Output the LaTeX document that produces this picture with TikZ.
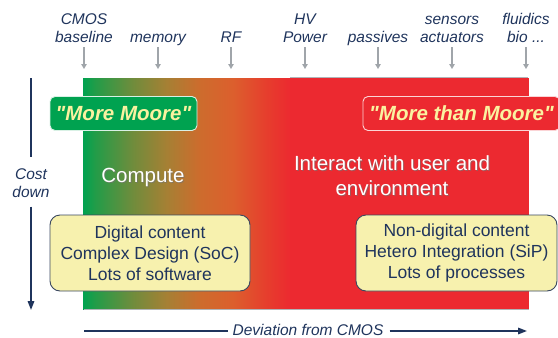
\documentclass[tikz,border=0pt]{standalone}
\usepackage{fontspec}
\setmainfont{Liberation Sans}
% same family without the TeX quote mapping, so " stays a straight quote
\newfontfamily\tagfamily{Liberation Sans}
\usetikzlibrary{arrows.meta}

\definecolor{navy}{RGB}{31,52,92}
\definecolor{pointer}{RGB}{160,165,170}
\definecolor{edge}{RGB}{176,180,184}
\definecolor{mmGreen}{RGB}{0,162,80}
\definecolor{mmGreenB}{RGB}{35,156,72}
\definecolor{mmOlive}{RGB}{112,140,60}
\definecolor{mmBrown}{RGB}{165,128,52}
\definecolor{mmOrange}{RGB}{205,108,45}
\definecolor{mmOrangeB}{RGB}{220,95,45}
\definecolor{mmRedOr}{RGB}{230,62,45}
\definecolor{mmRed}{RGB}{236,41,48}
\definecolor{paleYellow}{RGB}{250,242,160}
\definecolor{noteFill}{RGB}{247,241,174}
\definecolor{noteEdge}{RGB}{58,72,96}

% green-to-red band; the path spans 25bp..75bp of the shading
\pgfdeclarehorizontalshading{mooreband}{100bp}{%
  color(0bp)=(mmGreen); color(25bp)=(mmGreen); color(28bp)=(mmGreenB);
  color(37bp)=(mmOlive); color(45bp)=(mmBrown); color(53bp)=(mmOrange);
  color(61bp)=(mmOrangeB); color(69bp)=(mmRedOr); color(75bp)=(mmRed);
  color(100bp)=(mmRed)}

\begin{document}
\begin{tikzpicture}[x=1pt,y=-1pt,
  lbl/.style={font=\fontsize{15.5}{18}\selectfont\itshape, text=navy,
    align=center, inner sep=0pt, text depth=0pt},
  pointerarrow/.style={draw=pointer, line width=1.6pt,
    -{Triangle[width=5.5pt,length=5pt]}},
  axisarrow/.style={draw=navy, line width=1.6pt,
    -{Triangle[width=6.5pt,length=9pt]}},
  axisline/.style={draw=navy, line width=1.6pt},
  tag/.style={font=\tagfamily\fontsize{20.5}{24}\selectfont\bfseries\itshape,
    text=paleYellow, rounded corners=5pt, line width=0.9pt,
    minimum height=34pt, inner sep=0pt},
  bigtext/.style={font=\fontsize{20.5}{25}\selectfont, align=center,
    inner sep=0pt},
  note/.style={font=\fontsize{17.5}{21}\selectfont, text=navy,
    align=center, fill=noteFill, draw=noteEdge, line width=0.9pt,
    rounded corners=10pt, minimum height=76pt, inner sep=0pt},
]
\useasboundingbox (0,0) rectangle (558,338);
\clip (0,0) rectangle (558,338);

% background band
\shade[shading=mooreband] (83,78) rectangle (291,309);
\fill[mmRed] (290,78) rectangle (529,309);
\draw[edge, line width=0.9pt] (290,77.6) -- (528,77.6);
\draw[edge, line width=0.9pt] (84,309.6) -- (529,309.6);

% technology labels along the top
\node[lbl, anchor=south] (cmos) at (84,43) {CMOS\\baseline};
\node[lbl, anchor=south] (mem) at (158,43) {memory};
\node[lbl, anchor=south] (rf) at (231,43) {RF};
\node[lbl, anchor=south] (hv) at (305,43) {HV\\Power};
\node[lbl, anchor=south] (pas) at (378,43) {passives};
\node[lbl, anchor=south] (sens) at (452,43) {sensors\\actuators};
\node[lbl, anchor=south] (flu) at (526,43) {fluidics\\bio ...};

\foreach \n/\x in {cmos/84, mem/158, rf/231, hv/305, pas/378, sens/452, flu/526}{
  \coordinate (\n-end) at (\x,69);
  \draw[pointerarrow] ([yshift=-4pt]\n.south) -- (\n-end);
}

% cost axis
\coordinate (costtop) at (31,78);
\coordinate (costbot) at (31,310);
\node[lbl, inner sep=0pt] (cost) at (31,183) {Cost\\down};
\draw[axisline] (costtop) -- ([yshift=11pt]cost.north);
\draw[axisarrow] ([yshift=-9pt]cost.south) -- (costbot);

% deviation axis
\coordinate (devleft) at (84,331);
\coordinate (devright) at (527,331);
\node[lbl, anchor=base] (dev) at (308,335.5) {Deviation from CMOS};
\draw[axisline] (devleft) -- ([xshift=-4pt]dev.west |- devleft);
\draw[axisarrow] ([xshift=6pt]dev.east |- devright) -- (devright);

% tags
\node[tag, fill=mmGreen, draw=white!85!mmGreen, minimum width=147pt]
  (mm) at (123.5,113.5) {"More Moore"};
\node[tag, fill=mmRed, draw=white!80!mmRed, minimum width=197pt]
  (mtm) at (461.5,113.5) {"More than Moore"};

% headline texts with a soft shadow
\node[bigtext, text=black!55, opacity=0.6] (computeshadow) at (144,178) {Compute};
\node[bigtext, text=white] (compute) at (143,177) {Compute};
\node[bigtext, text=black!55, opacity=0.6] (interactshadow) at (393,176.5)
  {Interact with user and\\environment};
\node[bigtext, text=white] (interact) at (392,175.5)
  {Interact with user and\\environment};

% notes
\node[note, minimum width=200pt] (digital) at (150,253)
  {Digital content\\Complex Design (SoC)\\Lots of software};
\node[note, minimum width=201pt] (nondigital) at (456.5,253)
  {Non-digital content\\Hetero Integration (SiP)\\Lots of processes};
\end{tikzpicture}
\end{document}
